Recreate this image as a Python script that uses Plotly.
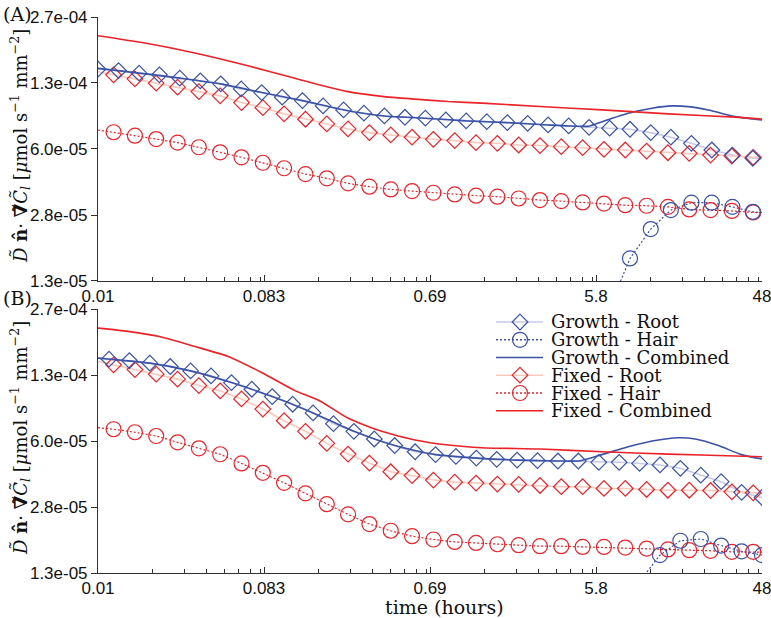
import math
import plotly.graph_objects as go

# ---------------- data ----------------
T_START = 0.01
T_END = 48.0

# marker sampling times (hours)
T_GROWTH_A = [0.01, 0.0130, 0.0169, 0.0219, 0.0284, 0.0369, 0.0479, 0.0622, 0.0808, 0.105,
              0.136, 0.177, 0.230, 0.298, 0.387, 0.503, 0.653, 0.848, 1.10, 1.43,
              1.86, 2.41, 3.13, 4.07, 5.28, 6.86, 8.90, 11.6, 15.0, 19.5,
              25.3, 32.9, 42.7]
T_GROWTH_B = [0.01151, 0.01493, 0.01938, 0.02515, 0.03263, 0.04233, 0.05493, 0.07129, 0.0925, 0.1200,
              0.1557, 0.2020, 0.2622, 0.3402, 0.4414, 0.5729, 0.7434, 0.9645, 1.252, 1.624,
              2.107, 2.734, 3.548, 4.604, 5.973, 7.751, 10.06, 13.05, 16.93, 21.98,
              28.51, 37.00, 48.0]
T_FIXED = [0.0122, 0.01602, 0.02102, 0.02761, 0.03624, 0.04758, 0.06246, 0.0820, 0.1076, 0.1413,
           0.1855, 0.2435, 0.3197, 0.4198, 0.5510, 0.7234, 0.9497, 1.247, 1.637, 2.149,
           2.821, 3.703, 4.862, 6.383, 8.379, 11.00, 14.44, 18.96, 24.89, 32.67, 42.90]

# ---- Panel A ----
GROWTH_ROOT_A = [1.488e-4, 1.464e-4, 1.421e-4, 1.394e-4, 1.342e-4, 1.301e-4, 1.257e-4, 1.187e-4, 1.138e-4, 1.079e-4,
                 1.038e-4, 9.77e-5, 9.33e-5, 8.99e-5, 8.71e-5, 8.58e-5, 8.49e-5, 8.32e-5, 8.23e-5, 8.16e-5,
                 8.07e-5, 8.01e-5, 7.86e-5, 7.77e-5, 7.65e-5, 7.57e-5, 7.48e-5, 7.20e-5, 6.83e-5, 6.37e-5,
                 5.90e-5, 5.57e-5, 5.37e-5]
GROWTH_ROOT_A_END = 5.35e-5
GROWTH_HAIR_A_FIRST = 25  # hair flux appears from this sample on
GROWTH_HAIR_A = [9.8e-6, 1.708e-5, 2.39e-5, 2.97e-5, 3.23e-5, 3.23e-5, 3.08e-5, 2.91e-5]
GROWTH_HAIR_A_END = 2.89e-5
GROWTH_COMB_A_T = [0.01, 0.0169, 0.0284, 0.0479, 0.0808, 0.136, 0.230, 0.387, 0.653, 1.10,
                   1.86, 3.13, 4.07, 5.28, 6.24, 8.70, 11.8, 15.3, 18.7, 24.2, 34.2, 48.0]
GROWTH_COMB_A = [1.50e-4, 1.421e-4, 1.342e-4, 1.257e-4, 1.138e-4, 1.038e-4, 9.33e-5, 8.71e-5, 8.49e-5, 8.23e-5,
                 8.07e-5, 7.86e-5, 7.77e-5, 7.75e-5, 8.16e-5, 8.99e-5, 9.52e-5, 9.77e-5, 9.69e-5, 9.33e-5, 8.64e-5, 8.32e-5]
FIXED_ROOT_A = [1.394e-4, 1.331e-4, 1.267e-4, 1.211e-4, 1.151e-4, 1.096e-4, 1.015e-4, 9.58e-5, 8.92e-5, 8.39e-5,
                7.95e-5, 7.51e-5, 7.20e-5, 7.01e-5, 6.83e-5, 6.67e-5, 6.57e-5, 6.42e-5, 6.37e-5, 6.25e-5,
                6.21e-5, 6.13e-5, 6.06e-5, 5.95e-5, 5.90e-5, 5.83e-5, 5.72e-5, 5.68e-5, 5.57e-5, 5.51e-5, 5.43e-5]
FIXED_ROOT_A_START, FIXED_ROOT_A_END = 1.443e-4, 5.42e-5
FIXED_HAIR_A = [7.23e-5, 6.95e-5, 6.69e-5, 6.42e-5, 6.09e-5, 5.75e-5, 5.43e-5, 5.10e-5, 4.79e-5, 4.48e-5,
                4.27e-5, 4.03e-5, 3.88e-5, 3.76e-5, 3.69e-5, 3.62e-5, 3.55e-5, 3.50e-5, 3.46e-5, 3.39e-5,
                3.33e-5, 3.29e-5, 3.24e-5, 3.20e-5, 3.14e-5, 3.12e-5, 3.08e-5, 2.99e-5, 2.97e-5, 2.94e-5, 2.89e-5]
FIXED_HAIR_A_START, FIXED_HAIR_A_END = 7.42e-5, 2.88e-5
FIXED_COMB_A_T = [0.01, 0.0182, 0.0344, 0.0652, 0.1235, 0.170, 0.243, 0.375, 0.572, 0.872,
                  1.347, 2.827, 6.24, 14.5, 34.1, 48.0]
FIXED_COMB_A = [2.18e-4, 2.005e-4, 1.79e-4, 1.56e-4, 1.34e-4, 1.24e-4, 1.15e-4, 1.09e-4, 1.056e-4, 1.027e-4,
                1.009e-4, 9.70e-5, 9.34e-5, 8.92e-5, 8.59e-5, 8.40e-5]

# ---- Panel B ----
GROWTH_ROOT_B = [1.522e-4, 1.498e-4, 1.454e-4, 1.399e-4, 1.331e-4, 1.257e-4, 1.164e-4, 1.079e-4, 9.92e-5, 9.09e-5,
                 8.23e-5, 7.28e-5, 6.67e-5, 6.11e-5, 5.67e-5, 5.28e-5, 5.11e-5, 5.01e-5, 4.91e-5, 4.84e-5,
                 4.80e-5, 4.77e-5, 4.75e-5, 4.75e-5, 4.68e-5, 4.68e-5, 4.62e-5, 4.54e-5, 4.37e-5, 4.04e-5,
                 3.75e-5, 3.32e-5, 3.13e-5]
GROWTH_ROOT_B_START = 1.540e-4
GROWTH_HAIR_B_FIRST = 26
GROWTH_HAIR_B = [1.2e-5, 1.619e-5, 1.909e-5, 1.947e-5, 1.807e-5, 1.691e-5, 1.619e-5]
GROWTH_COMB_B_T = [0.01, 0.01938, 0.03263, 0.05493, 0.0925, 0.1557, 0.2622, 0.4414, 0.7434, 1.252,
                   2.107, 3.548, 4.71, 6.22, 8.70, 11.8, 16.6, 20.5, 27.5, 36.9, 48.0]
GROWTH_COMB_B = [1.540e-4, 1.454e-4, 1.331e-4, 1.164e-4, 9.92e-5, 8.23e-5, 6.67e-5, 5.67e-5, 5.11e-5, 4.91e-5,
                 4.80e-5, 4.75e-5, 4.76e-5, 5.11e-5, 5.59e-5, 5.97e-5, 6.20e-5, 6.11e-5, 5.67e-5, 5.11e-5, 4.86e-5]
FIXED_ROOT_B = [1.426e-4, 1.351e-4, 1.282e-4, 1.211e-4, 1.125e-4, 1.059e-4, 9.66e-5, 8.60e-5, 7.53e-5, 6.67e-5,
                5.81e-5, 5.14e-5, 4.64e-5, 4.20e-5, 4.02e-5, 3.82e-5, 3.73e-5, 3.69e-5, 3.65e-5, 3.64e-5,
                3.59e-5, 3.54e-5, 3.54e-5, 3.47e-5, 3.47e-5, 3.43e-5, 3.40e-5, 3.40e-5, 3.39e-5, 3.34e-5, 3.30e-5]
FIXED_ROOT_B_START, FIXED_ROOT_B_END = 1.481e-4, 3.29e-5
FIXED_HAIR_B = [6.83e-5, 6.60e-5, 6.32e-5, 5.88e-5, 5.49e-5, 5.13e-5, 4.62e-5, 4.15e-5, 3.70e-5, 3.28e-5,
                2.90e-5, 2.58e-5, 2.31e-5, 2.14e-5, 2.01e-5, 1.936e-5, 1.883e-5, 1.862e-5, 1.834e-5, 1.814e-5,
                1.793e-5, 1.793e-5, 1.779e-5, 1.779e-5, 1.766e-5, 1.746e-5, 1.728e-5, 1.714e-5, 1.701e-5, 1.681e-5, 1.681e-5]
FIXED_HAIR_B_START, FIXED_HAIR_B_END = 6.95e-5, 1.675e-5
FIXED_COMB_B_T = [0.01, 0.01467, 0.02247, 0.0344, 0.0527, 0.0807, 0.1235, 0.170, 0.244, 0.374,
                  0.572, 0.876, 1.342, 2.83, 6.22, 14.56, 34.1, 48.0]
FIXED_COMB_B = [2.17e-4, 2.09e-4, 1.959e-4, 1.759e-4, 1.569e-4, 1.306e-4, 1.062e-4, 9.44e-5, 7.74e-5, 6.67e-5,
                6.04e-5, 5.70e-5, 5.53e-5, 5.45e-5, 5.28e-5, 5.14e-5, 5.03e-5, 4.99e-5]

# axes ticks
X_TICKS = [0.01, 0.083236, 0.69282, 5.7668, 48.0]
X_LABELS = ["0.01", "0.083", "0.69", "5.8", "48"]
Y_TICKS = [1.32e-5, 2.807e-5, 5.970e-5, 1.2697e-4, 2.7e-4]
Y_LABELS = ["1.3e-05", "2.8e-05", "6.0e-05", "1.3e-04", "2.7e-04"]

LEGEND_LABELS = ["Growth - Root", "Growth - Hair", "Growth - Combined",
                 "Fixed - Root", "Fixed - Hair", "Fixed - Combined"]

# ---------------- style ----------------
BLUE = "#3a52a8"
BLUE_LIGHT = "#c6cae8"
RED = "#ec2228"
RED_LIGHT = "#fbc9bb"
DOT = "2px,2px"
SERIF = "DejaVu Serif"
SANS = "Liberation Sans"
DIAMOND_SIZE = 12
CIRCLE_SIZE = 15

fig = go.Figure()


def line(x, y, color, width, dash="solid", ax=("x", "y"), spline=False):
    fig.add_trace(go.Scatter(x=x, y=y, mode="lines", xaxis=ax[0], yaxis=ax[1],
                             line=dict(color=color, width=width, dash=dash,
                                       shape="spline" if spline else "linear", smoothing=0.6),
                             showlegend=False, hoverinfo="skip"))


def marks(x, y, color, symbol, size, ax=("x", "y")):
    fig.add_trace(go.Scatter(x=x, y=y, mode="markers", xaxis=ax[0], yaxis=ax[1],
                             marker=dict(symbol=symbol, size=size, color=color,
                                         line=dict(color=color, width=1.2)),
                             showlegend=False))


def panel(ax, t_growth, gr, gr_line_x, gr_line_y, gh_first, gh, gh_end,
          gc_t, gc, fr, fr_s, fr_e, fh, fh_s, fh_e, fc_t, fc):
    line(gr_line_x, gr_line_y, BLUE_LIGHT, 1.6, ax=ax)
    line([T_START] + T_FIXED + [T_END], [fr_s] + fr + [fr_e], RED_LIGHT, 1.6, ax=ax)
    gh_x = t_growth[gh_first:]
    gh_y = list(gh)
    if gh_end is not None:
        gh_x = gh_x + [T_END]
        gh_y = gh_y + [gh_end]
    line(gh_x, gh_y, BLUE, 1.2, DOT, ax=ax)
    line([T_START] + T_FIXED + [T_END], [fh_s] + fh + [fh_e], RED, 1.2, DOT, ax=ax)
    marks(T_FIXED, fr, RED, "diamond-open", DIAMOND_SIZE, ax)
    marks(T_FIXED, fh, RED, "circle-open", CIRCLE_SIZE, ax)
    marks(t_growth, gr, BLUE, "diamond-open", DIAMOND_SIZE, ax)
    marks(t_growth[gh_first:], gh, BLUE, "circle-open", CIRCLE_SIZE, ax)
    line(gc_t, gc, BLUE, 1.6, ax=ax, spline=True)
    line(fc_t, fc, RED, 1.6, ax=ax, spline=True)


panel(("x", "y"), T_GROWTH_A, GROWTH_ROOT_A, T_GROWTH_A + [T_END], GROWTH_ROOT_A + [GROWTH_ROOT_A_END],
      GROWTH_HAIR_A_FIRST, GROWTH_HAIR_A, GROWTH_HAIR_A_END, GROWTH_COMB_A_T, GROWTH_COMB_A,
      FIXED_ROOT_A, FIXED_ROOT_A_START, FIXED_ROOT_A_END, FIXED_HAIR_A, FIXED_HAIR_A_START, FIXED_HAIR_A_END,
      FIXED_COMB_A_T, FIXED_COMB_A)
panel(("x2", "y2"), T_GROWTH_B, GROWTH_ROOT_B, [T_START] + T_GROWTH_B, [GROWTH_ROOT_B_START] + GROWTH_ROOT_B,
      GROWTH_HAIR_B_FIRST, GROWTH_HAIR_B, None, GROWTH_COMB_B_T, GROWTH_COMB_B,
      FIXED_ROOT_B, FIXED_ROOT_B_START, FIXED_ROOT_B_END, FIXED_HAIR_B, FIXED_HAIR_B_START, FIXED_HAIR_B_END,
      FIXED_COMB_B_T, FIXED_COMB_B)

# ---------------- layout ----------------
minor_vals = [k * m for m in X_TICKS[:-1] for k in range(2, 9)]
AX_COLOR = "#303030"
xcommon = dict(type="log", range=[math.log10(T_START), math.log10(T_END)],
               tickvals=X_TICKS, ticktext=X_LABELS, ticks="inside", ticklen=6, tickwidth=1,
               tickcolor=AX_COLOR, showline=True, linecolor=AX_COLOR, linewidth=1, mirror=False,
               showgrid=False, zeroline=False, tickfont=dict(family=SANS, size=17, color="#111"),
               automargin=False, ticklabeloverflow="allow",
               minor=dict(tickvals=minor_vals, ticks="inside", ticklen=4, tickcolor=AX_COLOR, showgrid=False))
ycommon = dict(type="log", range=[math.log10(Y_TICKS[0]), math.log10(Y_TICKS[-1])],
               tickvals=Y_TICKS, ticktext=Y_LABELS, ticks="outside", ticklen=6, tickwidth=1,
               tickcolor=AX_COLOR, showline=True, linecolor=AX_COLOR, linewidth=1, mirror=False,
               showgrid=False, zeroline=False, tickfont=dict(family=SANS, size=17, color="#111"),
               automargin=False, ticklabeloverflow="allow")

fig.update_layout(
    width=771, height=618,
    margin=dict(l=98, r=9, t=17, b=45, autoexpand=False),
    paper_bgcolor="white", plot_bgcolor="white",
    showlegend=False,
    xaxis=dict(domain=[0, 1], anchor="y", **xcommon),
    yaxis=dict(domain=[0.5252, 1], anchor="x", **ycommon),
    xaxis2=dict(domain=[0, 1], anchor="y2", **xcommon),
    yaxis2=dict(domain=[0, 0.4748], anchor="x2", **ycommon),
)

# ---------------- annotations ----------------
H = 556.0
W = 664.0
def py(p):  # pixel y -> paper
    return (573.0 - p) / H
def px(p):
    return (p - 98.0) / W

ytitle = ("<i>D\u0303</i> <b>n\u0302</b>· <b>\u2207\u0303</b><i>C\u0303</i><sub><i>l</i></sub> "
          "[<i>μ</i>mol s<sup>\u22121</sup> mm<sup>\u22122</sup>]")
ann = []
for yc in (py(146), py(438)):
    ann.append(dict(text=ytitle, x=px(20), y=yc, xref="paper", yref="paper", textangle=-90,
                    showarrow=False, xanchor="center", yanchor="middle",
                    font=dict(family=SERIF, size=18, color="#111")))
ann.append(dict(text="(A)", x=px(17), y=py(14), xref="paper", yref="paper", showarrow=False,
                xanchor="center", yanchor="middle", font=dict(family=SERIF, size=19, color="#111")))
ann.append(dict(text="(B)", x=px(17), y=py(298), xref="paper", yref="paper", showarrow=False,
                xanchor="center", yanchor="middle", font=dict(family=SERIF, size=19, color="#111")))
ann.append(dict(text="time (hours)", x=px(444), y=py(607), xref="paper", yref="paper", showarrow=False,
                xanchor="center", yanchor="middle", font=dict(family=SERIF, size=19, color="#111")))

# compact legend, like the original
rows = [322, 339.8, 357.5, 375.2, 393, 410.7]
styles = [(BLUE_LIGHT, "solid", BLUE, "diamond"), (BLUE, "dot", BLUE, "circle"), (BLUE, "solid", None, None),
          (RED_LIGHT, "solid", RED, "diamond"), (RED, "dot", RED, "circle"), (RED, "solid", None, None)]
shapes = []
for r, lab, (lc, ld, mc, ms) in zip(rows, LEGEND_LABELS, styles):
    yy = py(r)
    shapes.append(dict(type="line", xref="paper", yref="paper", x0=px(496), x1=px(543), y0=yy, y1=yy,
                       line=dict(color=lc, width=1.6, dash=DOT if ld == "dot" else "solid")))
    if ms == "circle":
        shapes.append(dict(type="circle", xref="paper", yref="paper", xsizemode="pixel", ysizemode="pixel",
                           xanchor=px(520), yanchor=yy, x0=-7.5, x1=7.5, y0=-7.5, y1=7.5,
                           line=dict(color=mc, width=1.2)))
    elif ms == "diamond":
        shapes.append(dict(type="path", xref="paper", yref="paper", xsizemode="pixel", ysizemode="pixel",
                           xanchor=px(520), yanchor=yy, path="M0,7.8 L7.8,0 L0,-7.8 L-7.8,0 Z",
                           line=dict(color=mc, width=1.2)))
    ann.append(dict(text=lab, x=px(549), y=yy, xref="paper", yref="paper", showarrow=False,
                    xanchor="left", yanchor="middle", font=dict(family=SERIF, size=18, color="#111")))

fig.update_layout(annotations=ann, shapes=shapes)
# draw the page edge-to-edge (no default body margin), no toolbar
fig.write_html("out.html", config={"displayModeBar": False},
               post_script="document.body.style.margin='0px';")
